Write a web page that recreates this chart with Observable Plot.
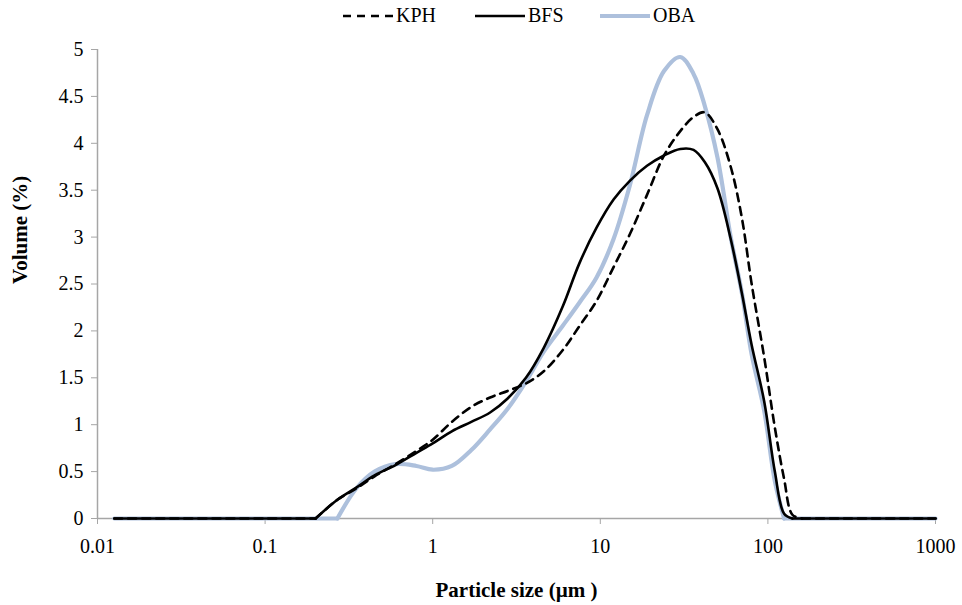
<!DOCTYPE html>
<html>
<head>
<meta charset="utf-8">
<script src="https://cdn.jsdelivr.net/npm/d3@7"></script>
<script src="https://cdn.jsdelivr.net/npm/@observablehq/plot@0.6"></script>
<style>
  html, body { margin: 0; padding: 0; background: #fff; }
  body { width: 962px; height: 605px; overflow: hidden; font-family: "Liberation Serif", "DejaVu Serif", serif; }
  #legend { height: 36px; position: relative; }
  #legend .item { position: absolute; top: 4px; display: flex; align-items: center; font-size: 20px; color: #000; }
  #legend svg { margin-right: 3px; }
</style>
</head>
<body>
<div id="legend"></div>
<div id="chart"></div>
<script>
// Particle size (µm)
const sizes = [0.0126, 0.1, 0.2, 0.27, 0.35, 0.45, 0.6, 0.8, 1.0, 1.3, 1.7, 2.2, 2.8, 3.6, 4.6, 6, 7.5, 9.5, 12, 15, 19, 24, 30, 36, 42, 50, 60, 70, 80, 95, 110, 125, 140, 160, 200, 1000];
// Volume (%)
const kph = [0, 0, 0, 0.2, 0.32, 0.45, 0.58, 0.72, 0.84, 1.03, 1.19, 1.29, 1.36, 1.44, 1.57, 1.8, 2.05, 2.32, 2.68, 3.03, 3.45, 3.87, 4.13, 4.28, 4.33, 4.15, 3.75, 3.2, 2.5, 1.72, 0.97, 0.42, 0.04, 0, 0, 0];
const bfs = [0, 0, 0, 0.2, 0.33, 0.46, 0.57, 0.7, 0.8, 0.93, 1.03, 1.13, 1.28, 1.5, 1.82, 2.27, 2.72, 3.1, 3.4, 3.6, 3.76, 3.87, 3.94, 3.93, 3.8, 3.52, 2.98, 2.4, 1.85, 1.25, 0.5, 0.05, 0, 0, 0, 0];
const oba = [0, 0, 0, 0, 0.32, 0.5, 0.58, 0.56, 0.52, 0.56, 0.73, 0.95, 1.17, 1.46, 1.78, 2.06, 2.3, 2.57, 2.98, 3.55, 4.3, 4.77, 4.92, 4.74, 4.4, 3.85, 3.0, 2.4, 1.75, 1.15, 0.4, 0, 0, 0, 0, 0];

const seriesNames = ["KPH", "BFS", "OBA"];
const xTicks = [0.01, 0.1, 1, 10, 100, 1000];
const xTickLabels = ["0.01", "0.1", "1", "10", "100", "1000"];
const yTicks = [0, 0.5, 1, 1.5, 2, 2.5, 3, 3.5, 4, 4.5, 5];
const yTickLabels = ["0", "0.5", "1", "1.5", "2", "2.5", "3", "3.5", "4", "4.5", "5"];

const styles = {
  KPH: {stroke: "#000", width: 2.6, dash: "8,6"},
  BFS: {stroke: "#000", width: 2.6, dash: null},
  OBA: {stroke: "#adc0dc", width: 4.2, dash: null}
};
const valuesBy = {KPH: kph, BFS: bfs, OBA: oba};

// Split each series into flat zero runs and the smoothed hump, sharing boundary points,
// so the smoothing does not dip below zero.
function toRows(name) {
  const v = valuesBy[name];
  const first = v.findIndex(d => d > 0) - 1;
  let last = v.length - 1;
  while (v[last] === 0) last--;
  last += 1;
  const rows = [];
  sizes.forEach((s, i) => {
    if (i <= first) rows.push({size: s, vol: v[i], seg: "a"});
    if (i >= first && i <= last) rows.push({size: s, vol: v[i], seg: "b"});
    if (i >= last) rows.push({size: s, vol: v[i], seg: "c"});
  });
  return rows;
}

// Legend
const legend = document.getElementById("legend");
const legendPos = {KPH: 343, BFS: 475, OBA: 600};
for (const name of seriesNames) {
  const st = styles[name];
  const item = document.createElement("div");
  item.className = "item";
  item.style.left = legendPos[name] + "px";
  item.innerHTML = `<svg width="50" height="10"><line x1="0" x2="50" y1="5" y2="5" stroke="${st.stroke}" stroke-width="${st.width}" ${st.dash ? `stroke-dasharray="${st.dash}"` : ""}/></svg><span>${name}</span>`;
  legend.appendChild(item);
}

const axisGray = "#a6a6a6";
const fmtX = d => xTickLabels[xTicks.indexOf(d)];
const fmtY = d => yTickLabels[yTicks.indexOf(d)];

const chart = Plot.plot({
  width: 962,
  height: 569,
  marginLeft: 97,
  marginRight: 27,
  marginTop: 13,
  marginBottom: 87,
  style: {fontFamily: "'Liberation Serif', serif", fontSize: "20px", color: "#000", background: "#fff"},
  x: {type: "log", domain: [0.01, 1000]},
  y: {domain: [0, 5]},
  marks: [
    Plot.ruleX([0.01], {y1: 0, y2: 5, stroke: axisGray, strokeWidth: 1.5}),
    Plot.ruleY([0], {stroke: axisGray, strokeWidth: 1.5}),
    Plot.axisX({ticks: xTicks, tickFormat: fmtX, tickSize: 6, tickPadding: 14, stroke: axisGray, fontSize: 20, label: null}),
    Plot.axisY({ticks: yTicks, tickFormat: fmtY, tickSize: 6, tickPadding: 8, stroke: axisGray, fontSize: 20, label: null}),
    ...["OBA", "BFS", "KPH"].map(name => Plot.line(toRows(name), {
      x: "size", y: "vol", z: "seg",
      stroke: styles[name].stroke,
      strokeWidth: styles[name].width,
      strokeDasharray: styles[name].dash,
      curve: "catmull-rom"
    })),
    Plot.text(["Particle size (µm )"], {frameAnchor: "bottom", lineAnchor: "middle", dy: 72, fontWeight: "bold", fontSize: 21}),
    Plot.text(["Volume (%)"], {frameAnchor: "left", dx: -77, rotate: -90, fontWeight: "bold", fontSize: 21})
  ]
});
document.getElementById("chart").appendChild(chart);
</script>
</body>
</html>
